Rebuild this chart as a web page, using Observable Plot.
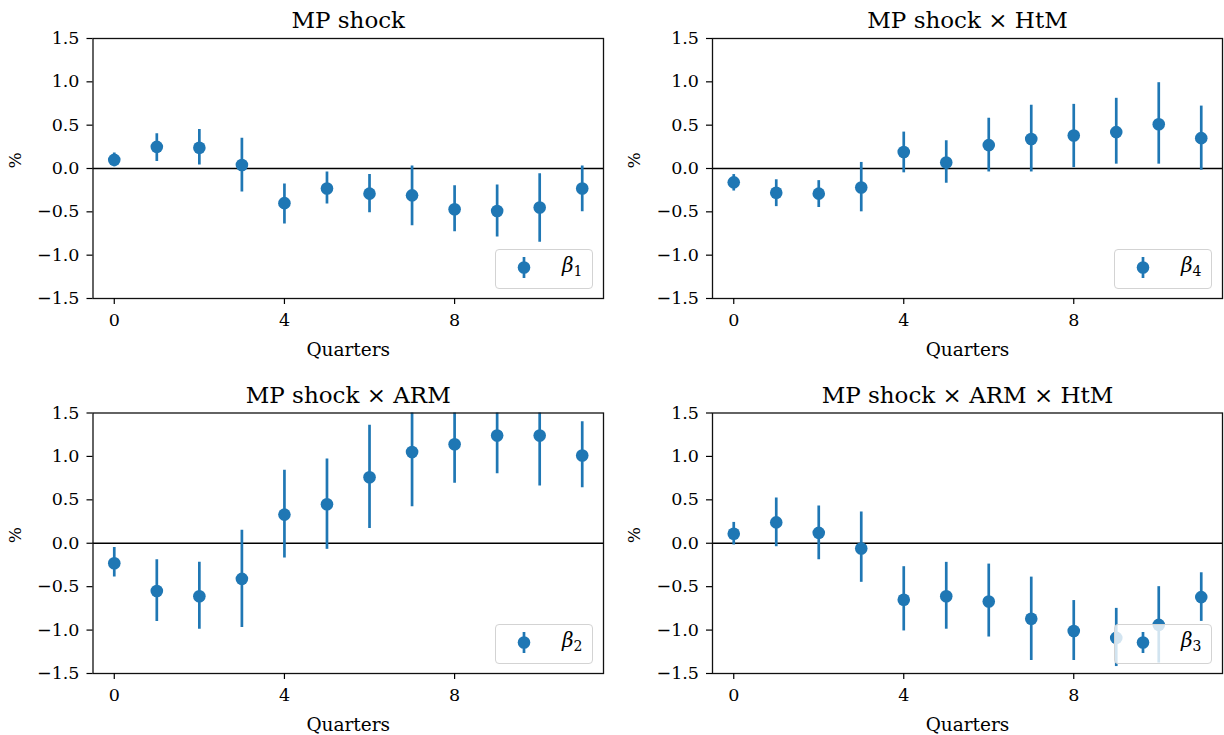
<!DOCTYPE html>
<html>
<head>
<meta charset="utf-8">
<script src="https://cdn.jsdelivr.net/npm/d3@7"></script>
<script src="https://cdn.jsdelivr.net/npm/@observablehq/plot@0.6"></script>
<style>
  html, body { margin: 0; padding: 0; background: white; }
  #wrap { position: relative; width: 1224px; height: 735px; overflow: hidden; background: white; font-family: "DejaVu Serif", serif; }
  .panel { position: absolute; }
  .legend { position: absolute; width: 96px; height: 38px; border: 1px solid #d3d3d3; border-radius: 4px; background: rgba(255,255,255,0.8); box-sizing: content-box; }
  .legend svg { position: absolute; left: 0; top: 0; }
  .legend .lab { position: absolute; left: 66px; top: 5px; font-family: "DejaVu Serif", serif; font-size: 20px; font-style: italic; color: black; line-height: 1; }
  .legend .lab sub { font-style: normal; font-size: 14px; vertical-align: -4px; }
</style>
</head>
<body>
<div id="wrap"></div>
<script>
// ---- data ----
const quarters = [0, 1, 2, 3, 4, 5, 6, 7, 8, 9, 10, 11];
const xTicks = [0, 4, 8];
const yTicks = [-1.5, -1.0, -0.5, 0.0, 0.5, 1.0, 1.5];

const titles = ["MP shock", "MP shock × HtM", "MP shock × ARM", "MP shock × ARM × HtM"];
const legendSubs = ["1", "4", "2", "3"];

// beta1: MP shock
const b1 = [0.10, 0.25, 0.24, 0.04, -0.40, -0.23, -0.29, -0.31, -0.47, -0.49, -0.45, -0.23];
const b1Lo = [0.02, 0.08, 0.04, -0.27, -0.64, -0.41, -0.51, -0.66, -0.73, -0.79, -0.85, -0.50];
const b1Hi = [0.18, 0.40, 0.45, 0.35, -0.18, -0.04, -0.07, 0.03, -0.20, -0.19, -0.06, 0.03];

// beta4: MP shock x HtM
const b4 = [-0.16, -0.28, -0.29, -0.22, 0.19, 0.07, 0.27, 0.34, 0.38, 0.42, 0.51, 0.35];
const b4Lo = [-0.26, -0.44, -0.45, -0.50, -0.05, -0.17, -0.04, -0.04, 0.01, 0.05, 0.05, -0.02];
const b4Hi = [-0.07, -0.13, -0.14, 0.07, 0.42, 0.32, 0.58, 0.73, 0.74, 0.81, 0.99, 0.72];

// beta2: MP shock x ARM
const b2 = [-0.23, -0.55, -0.61, -0.41, 0.33, 0.45, 0.76, 1.05, 1.14, 1.24, 1.24, 1.01];
const b2Lo = [-0.39, -0.90, -0.99, -0.97, -0.17, -0.07, 0.17, 0.42, 0.69, 0.80, 0.66, 0.64];
const b2Hi = [-0.05, -0.19, -0.22, 0.15, 0.84, 0.97, 1.36, 1.67, 1.58, 1.68, 1.82, 1.40];

// beta3: MP shock x ARM x HtM
const b3 = [0.11, 0.24, 0.12, -0.06, -0.65, -0.61, -0.67, -0.87, -1.01, -1.09, -0.94, -0.62];
const b3Lo = [-0.02, -0.04, -0.19, -0.45, -1.01, -0.99, -1.08, -1.35, -1.35, -1.42, -1.38, -0.90];
const b3Hi = [0.24, 0.52, 0.43, 0.36, -0.27, -0.22, -0.24, -0.39, -0.66, -0.75, -0.50, -0.34];

const series = [[b1, b1Lo, b1Hi], [b4, b4Lo, b4Hi], [b2, b2Lo, b2Hi], [b3, b3Lo, b3Hi]];

// ---- layout ----
const BLUE = "#1f77b4";
const panels = [
  {left: 0,   top: 0,   w: 612, h: 367, mL: 92.5, mR: 9,  mT: 38,  mB: 69},
  {left: 612, top: 0,   w: 612, h: 367, mL: 100,  mR: 2,  mT: 38,  mB: 69},
  {left: 0,   top: 367, w: 612, h: 368, mL: 92.5, mR: 9,  mT: 45.5, mB: 62},
  {left: 612, top: 367, w: 612, h: 368, mL: 100,  mR: 2,  mT: 45.5, mB: 62}
];

const wrap = document.getElementById("wrap");

panels.forEach((p, i) => {
  const [pt, lo, hi] = series[i];
  const data = quarters.map((q, k) => ({q, v: pt[k], lo: lo[k], hi: hi[k]}));
  const chart = Plot.plot({
    width: p.w, height: p.h,
    marginLeft: p.mL, marginRight: p.mR, marginTop: p.mT, marginBottom: p.mB,
    style: {fontFamily: "DejaVu Serif, serif", fontSize: "17.5px", color: "black", background: "white", overflow: "visible"},
    x: {domain: [-0.5, 11.5]},
    y: {domain: [-1.5, 1.5]},
    marks: [
      Plot.ruleY([0], {stroke: "black", strokeWidth: 1.5}),
      Plot.ruleX(data, {x: "q", y1: "lo", y2: "hi", stroke: BLUE, strokeWidth: 2.7, clip: true}),
      Plot.dot(data, {x: "q", y: "v", r: 6.3, fill: BLUE, stroke: "none"}),
      Plot.frame({stroke: "#111", strokeWidth: 1.3}),
      Plot.axisY({ticks: yTicks, tickFormat: d3.format(".1f"), tickSize: 6, tickPadding: 7.5, strokeWidth: 1.2, label: null}),
      Plot.axisX({ticks: xTicks, tickFormat: d => String(d), tickSize: 6, tickPadding: 9, strokeWidth: 1.2, label: null}),
      Plot.text([titles[i]], {frameAnchor: "top", lineAnchor: "bottom", dy: -10.5, fontSize: 23, fill: "black"}),
      Plot.text(["Quarters"], {frameAnchor: "bottom", lineAnchor: "bottom", dy: 57, fontSize: 18.5, fill: "black"}),
      Plot.text(["%"], {frameAnchor: "left", lineAnchor: "middle", rotate: -90, dx: -77.5, fontSize: 17, fill: "black"})
    ]
  });
  const div = document.createElement("div");
  div.className = "panel";
  div.style.left = p.left + "px";
  div.style.top = p.top + "px";
  div.appendChild(chart);
  wrap.appendChild(div);

  // legend (matplotlib-style, lower right, semi-transparent)
  const frameRight = p.left + p.w - p.mR;
  const frameBottom = p.top + p.h - p.mB;
  const lg = document.createElement("div");
  lg.className = "legend";
  lg.style.left = (frameRight - 10 - 98) + "px";
  lg.style.top = (frameBottom - 9 - 40) + "px";
  lg.innerHTML = `<svg width="96" height="38">
      <line x1="28" x2="28" y1="7" y2="28" stroke="${BLUE}" stroke-width="2.7"></line>
      <circle cx="28" cy="17.5" r="6.3" fill="${BLUE}"></circle>
    </svg><span class="lab">β<sub>${legendSubs[i]}</sub></span>`;
  wrap.appendChild(lg);
});
</script>
</body>
</html>
